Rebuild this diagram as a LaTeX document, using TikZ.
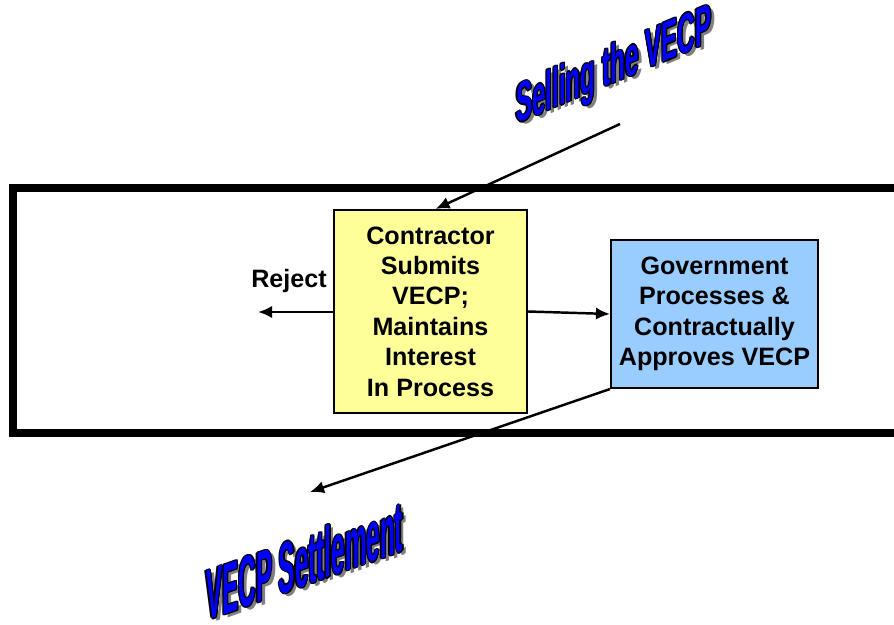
\documentclass[tikz,border=0pt]{standalone}
\usepackage{fontspec}
\setmainfont{Liberation Sans}
\usetikzlibrary{arrows.meta,positioning}
\definecolor{boxyellow}{HTML}{FFFF99}
\definecolor{boxblue}{HTML}{99CCFF}
\definecolor{artblue}{HTML}{0000FF}

\begin{document}
\begin{tikzpicture}[x=0.02cm,y=-0.02cm,>={Latex[length=8pt,width=7pt]}]
\tikzstyle{stepbox}=[draw,line width=1.2pt,align=center,inner sep=0pt,font=\bfseries\fontsize{14.3}{17.3}\selectfont]
\tikzstyle{flow}=[->,line width=1.4pt]
\tikzstyle{art}=[anchor=base west,inner sep=0pt]
\useasboundingbox (0,0) rectangle (894,625);
\clip (0,0) rectangle (894,625);
% frame
\draw[line width=4pt] (13,188) rectangle (930,433);
% boxes
\node[stepbox,fill=boxyellow,minimum width=3.86cm,minimum height=4.06cm] (submit) at (430.5,311.5)
  {Contractor\\Submits\\VECP;\\Maintains\\Interest\\In Process};
\node[stepbox,fill=boxblue,minimum width=4.14cm,minimum height=2.96cm] (approve) at (714.5,314)
  {Government\\Processes \&\\Contractually\\Approves VECP};
\coordinate (rejend) at (258,312);
\node[font=\bfseries\fontsize{14.3}{17.3}\selectfont] (reject) at (289,281) {Reject};
\coordinate (sellstart) at (620,124);
\coordinate (settleend) at (310,492);
% connectors
\draw[flow] (submit.west |- rejend) -- (rejend);
\draw[flow] (submit.east) -- (approve.west);
\draw[flow] (sellstart) -- ([xshift=0.1cm]submit.north);
\draw[flow] (approve.south west) -- (settleend);
% word art
\foreach \dx/\dy/\c [count=\i] in {4/3/gray,-1.2/0/black,1.2/0/black,0/-1.2/black,0/1.2/black,-0.9/-0.9/black,0.9/0.9/black,-0.9/0.9/black,0.9/-0.9/black,0/0/artblue}
{
  \node[art,text=\c,font=\bfseries\fontsize{31.7}{32}\selectfont,yslant=0.42,xscale=0.435] (sell\i) at (516+\dx,124+\dy) {Selling the VECP};
  \node[art,text=\c,font=\bfseries\fontsize{41}{42}\selectfont,yslant=0.355,xscale=0.337] (settle\i) at (206+\dx,621+\dy) {VECP Settlement};
}
\end{tikzpicture}
\end{document}
